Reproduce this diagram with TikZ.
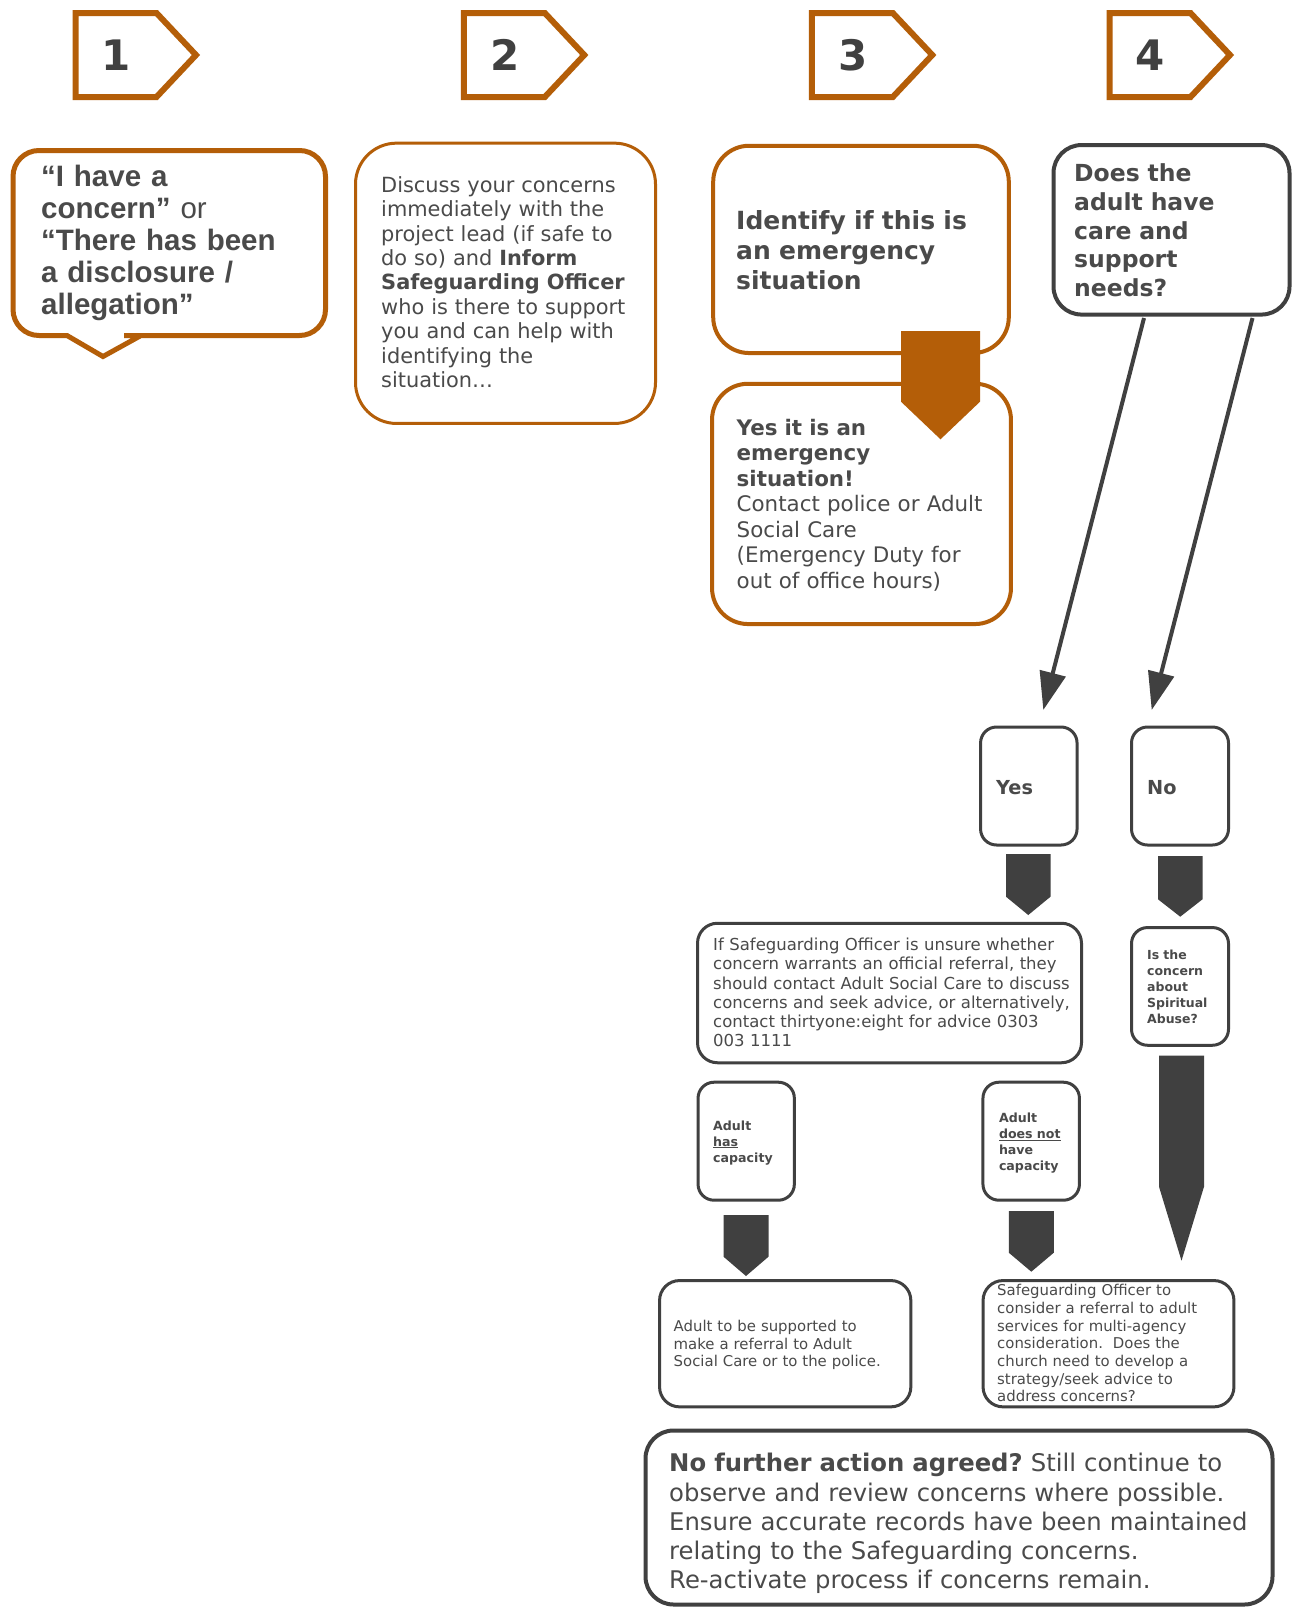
\documentclass[tikz,border=0pt]{standalone}
\usepackage{fontspec}
\setmainfont{DejaVu Sans}
\newfontfamily\arialf{Liberation Sans}
\usetikzlibrary{arrows.meta}
\frenchspacing
\definecolor{orng}{RGB}{180,94,8}
\definecolor{dgray}{RGB}{64,64,64}
\definecolor{tgray}{RGB}{74,74,74}
\tikzset{
  obox/.style={draw=orng, line width=4pt, rounded corners=36pt, inner sep=0pt},
  gbox/.style={draw=dgray, line width=3pt, rounded corners=16pt, inner sep=0pt},
  tagln/.style={draw=orng, line width=6pt, line join=miter},
  tagnum/.style={inner sep=0pt, text=dgray, font={\fontsize{42}{42}\selectfont\bfseries}},
  txt/.style={anchor=base west, inner sep=0pt, align=left, text width=800pt, text=tgray},
  conn/.style={draw=dgray, line width=4pt, -{Triangle[length=38pt, width=26pt]}},
  blk/.style={fill=dgray, draw=none},
}
\newcommand\steptag[3]{%
  \draw[tagln] (#1+3,13) -- (#1+84,13) -- (#1+123.5,55) -- (#1+84,97) -- (#1+3,97) -- cycle;
  \node[tagnum] (#3) at (#1+44,55.4) {#2};
}
\newcommand\blockarr[6][blk]{%
  \path[#1] (#2,#4) -- (#3,#4) -- (#3,#5) -- ({(#2+#3)/2},#6) -- (#2,#5) -- cycle;
}
\begin{document}
\begin{tikzpicture}[x=1pt,y=-1pt]
\useasboundingbox[fill=white] (0,0) rectangle (1294,1609);

% step tags
\steptag{72.5}{1}{t1}
\steptag{460.8}{2}{t2}
\steptag{808.8}{3}{t3}
\steptag{1106.5}{4}{t4}

% box 1 speech bubble
\draw[draw=orng, line width=5pt, rounded corners=26pt]
  (170,150.5) -- (325.5,150.5) -- (325.5,335.5) -- (150,335.5)
  [sharp corners] -- (141,335.5) -- (103,356.5) -- (67,335.5) -- (60,335.5)
  [rounded corners=26pt] -- (13,335.5) -- (13,150.5) -- cycle;
\node[txt, font={\arialf\fontsize{29.5}{32.1}\selectfont}] (b1t) at (41,186.5)
  {\textbf{“I have a}\\\textbf{concern”} or\\\textbf{“There has been}\\\textbf{a disclosure /}\\\textbf{allegation”}};

% box 2
\node[obox, line width=3pt, rounded corners=41pt, minimum width=300pt, minimum height=280.3pt] (b2) at (505.5,283.3) {};
\node[txt, font={\fontsize{20.9}{24.4}\selectfont}] (b2t) at (381,192.3)
  {Discuss your concerns\\immediately with the\\project lead (if safe to\\do so) and \textbf{Inform}\\\textbf{Safeguarding Officer}\\who is there to support\\you and can help with\\identifying the\\situation…};

% box 3a / 3b
\node[obox, minimum width=295.6pt, minimum height=207.3pt] (b3a) at (861,249.4) {};
\node[txt, font={\fontsize{25}{30}\selectfont\bfseries}] (b3at) at (736,229.3)
  {Identify if this is\\an emergency\\situation};
\node[obox, minimum width=298.9pt, minimum height=240.3pt] (b3b) at (861.5,503.9) {};
\node[txt, font={\fontsize{21.4}{25.5}\selectfont}] (b3bt) at (736.5,435)
  {\textbf{Yes it is an}\\\textbf{emergency}\\\textbf{situation!}\\Contact police or Adult\\Social Care\\(Emergency Duty for\\out of office hours)};
\blockarr[fill=orng]{901}{980}{331}{401.7}{439.3}

% box 4
\node[gbox, line width=4pt, rounded corners=28pt, minimum width=236pt, minimum height=169.5pt] (b4) at (1171.5,229.8) {};
\node[txt, font={\fontsize{23.5}{28.75}\selectfont\bfseries}] (b4t) at (1074,181.7)
  {Does the\\adult have\\care and\\support\\needs?};

% yes / no
\node[gbox, minimum width=96.5pt, minimum height=118pt] (yes) at (1028.8,786) {};
\node[txt, font={\fontsize{19.3}{23}\selectfont\bfseries}] (yest) at (996,794) {Yes};
\node[gbox, minimum width=97pt, minimum height=118pt] (no) at (1180,786) {};
\node[txt, font={\fontsize{19.3}{23}\selectfont\bfseries}] (not) at (1147,794) {No};

\coordinate (s1) at (1144,318);
\coordinate (s2) at (1252.5,318);
\coordinate (e1) at (1043.3,710);
\coordinate (e2) at (1151.7,710);
\draw[conn] (s1) -- (e1);
\draw[conn] (s2) -- (e2);

\blockarr{1006}{1050.5}{854}{896.7}{915}
\blockarr{1158}{1202.5}{856}{899.3}{916.7}

% if box
\node[gbox, rounded corners=20pt, minimum width=384pt, minimum height=139.5pt] (ifb) at (889.5,993) {};
\node[txt, font={\fontsize{16.5}{19.2}\selectfont}] (ifbt) at (713,950.7)
  {If Safeguarding Officer is unsure whether\\concern warrants an official referral, they\\should contact Adult Social Care to discuss\\concerns and seek advice, or alternatively,\\contact thirtyone:eight for advice 0303\\003 1111};

% spiritual
\node[gbox, minimum width=97pt, minimum height=117.7pt] (sp) at (1180,986.4) {};
\node[txt, font={\fontsize{12.5}{16}\selectfont\bfseries}] (spt) at (1147,959.3)
  {Is the\\concern\\about\\Spiritual\\Abuse?};
\blockarr{1159}{1204}{1055.7}{1186.7}{1260.7}

% capacity boxes
\node[gbox, minimum width=96.3pt, minimum height=118pt] (has) at (746.2,1141.2) {};
\node[txt, font={\fontsize{12.6}{16}\selectfont\bfseries}] (hast) at (713,1130)
  {Adult\\\underline{has}\\capacity};
\node[gbox, minimum width=96.5pt, minimum height=118pt] (dn) at (1031.2,1141.2) {};
\node[txt, font={\fontsize{12.6}{15.9}\selectfont\bfseries}] (dnt) at (998.8,1122.3)
  {Adult\\\underline{does not}\\have\\capacity};
\blockarr{723.5}{768.5}{1215}{1256.7}{1276}
\blockarr{1008.8}{1053.8}{1211}{1252.7}{1271.7}

% outcome boxes
\node[gbox, rounded corners=20pt, minimum width=251.3pt, minimum height=126.3pt] (supp) at (785.2,1343.7) {};
\node[txt, font={\fontsize{14.9}{17.3}\selectfont}] (suppt) at (673.5,1331.7)
  {Adult to be supported to\\make a referral to Adult\\Social Care or to the police.};
\node[gbox, rounded corners=20pt, minimum width=250.9pt, minimum height=126.3pt] (so) at (1108.5,1343.7) {};
\node[txt, font={\fontsize{14.9}{17.7}\selectfont}] (sot) at (997,1295.7)
  {Safeguarding Officer to\\consider a referral to adult\\services for multi-agency\\consideration.\ \ Does the\\church need to develop a\\strategy/seek advice to\\address concerns?};

% bottom box
\node[gbox, line width=4pt, rounded corners=28pt, minimum width=627pt, minimum height=174pt] (nfa) at (959,1517.5) {};
\node[txt, font={\fontsize{24.3}{29.3}\selectfont}] (nfat) at (669,1471.7)
  {\textbf{No further action agreed?} Still continue to\\observe and review concerns where possible.\\Ensure accurate records have been maintained\\relating to the Safeguarding concerns.\\Re-activate process if concerns remain.};
\end{tikzpicture}
\end{document}
